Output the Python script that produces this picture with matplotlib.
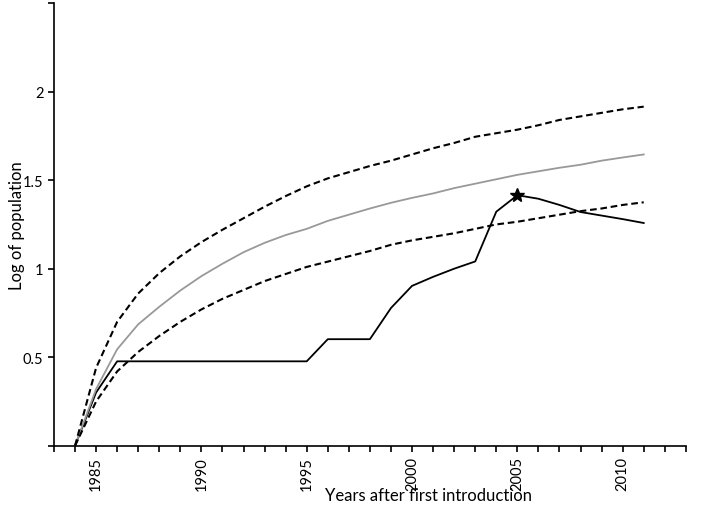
import matplotlib
matplotlib.use("Agg")
import matplotlib.pyplot as plt

# years 1984..2011
years = list(range(1984, 2012))

# observed log population (black line)
observed = [0.0, 0.301, 0.477, 0.477, 0.477, 0.477, 0.477, 0.477, 0.477, 0.477,
            0.477, 0.477, 0.602, 0.602, 0.602, 0.778, 0.903, 0.954, 1.0, 1.041,
            1.322, 1.415, 1.395, 1.36, 1.32, 1.30, 1.28, 1.258]

# predicted mean (grey line)
mean_pred = [0.0, 0.32, 0.545, 0.686, 0.785, 0.877, 0.958, 1.028, 1.093, 1.146,
             1.19, 1.225, 1.27, 1.305, 1.34, 1.372, 1.40, 1.425, 1.455, 1.48,
             1.505, 1.53, 1.55, 1.57, 1.587, 1.61, 1.628, 1.645]

# upper / lower bounds (dashed)
upper = [0.0, 0.44, 0.70, 0.86, 0.975, 1.07, 1.15, 1.22, 1.285, 1.35,
         1.41, 1.465, 1.51, 1.545, 1.58, 1.61, 1.645, 1.68, 1.71, 1.745,
         1.765, 1.785, 1.81, 1.84, 1.86, 1.88, 1.90, 1.915]
lower = [0.0, 0.25, 0.42, 0.53, 0.62, 0.70, 0.77, 0.83, 0.88, 0.93,
         0.97, 1.01, 1.04, 1.07, 1.10, 1.135, 1.16, 1.18, 1.20, 1.225,
         1.25, 1.265, 1.285, 1.305, 1.325, 1.34, 1.36, 1.375]

peak_year = 2005
peak_value = 1.415

plt.rcParams['font.family'] = ['Lato', 'DejaVu Sans']

fig = plt.figure(figsize=(7.10, 5.06), dpi=100)
ax = fig.add_axes([0.076, 0.117, 0.890, 0.875])

dash = (0, (3.2, 1.8))
ax.plot(years, observed, color='black', linewidth=1.3, zorder=2)
ax.plot(years, mean_pred, color='#999999', linewidth=1.3, zorder=3)
ax.plot(years, upper, color='black', linewidth=1.5, linestyle=dash, zorder=4)
ax.plot(years, lower, color='black', linewidth=1.5, linestyle=dash, zorder=4)
ax.plot([peak_year], [peak_value], marker='*', color='black', markersize=10, zorder=5)

ax.set_xlim(1983, 2013)
ax.set_ylim(0, 2.5)

ax.set_xticks(range(1983, 2014))
ax.set_xticklabels([str(y) if y % 5 == 0 else '' for y in range(1983, 2014)],
                   rotation=90, fontsize=10.5)
ax.set_yticks([0, 0.5, 1, 1.5, 2, 2.5])
ax.set_yticklabels(['', '0.5', '1', '1.5', '2', ''], fontsize=10.5)
ax.tick_params(direction='out', length=4, width=1.2)

for side in ['top', 'right']:
    ax.spines[side].set_visible(False)
for side in ['left', 'bottom']:
    ax.spines[side].set_linewidth(1.2)

ax.set_xlabel('Years after first introduction', fontsize=12)
ax.xaxis.set_label_coords(0.592, -0.094)
ax.set_ylabel('Log of population', fontsize=12)
ax.yaxis.set_label_coords(-0.046, 0.5)

fig.savefig('out.png', dpi=100)
